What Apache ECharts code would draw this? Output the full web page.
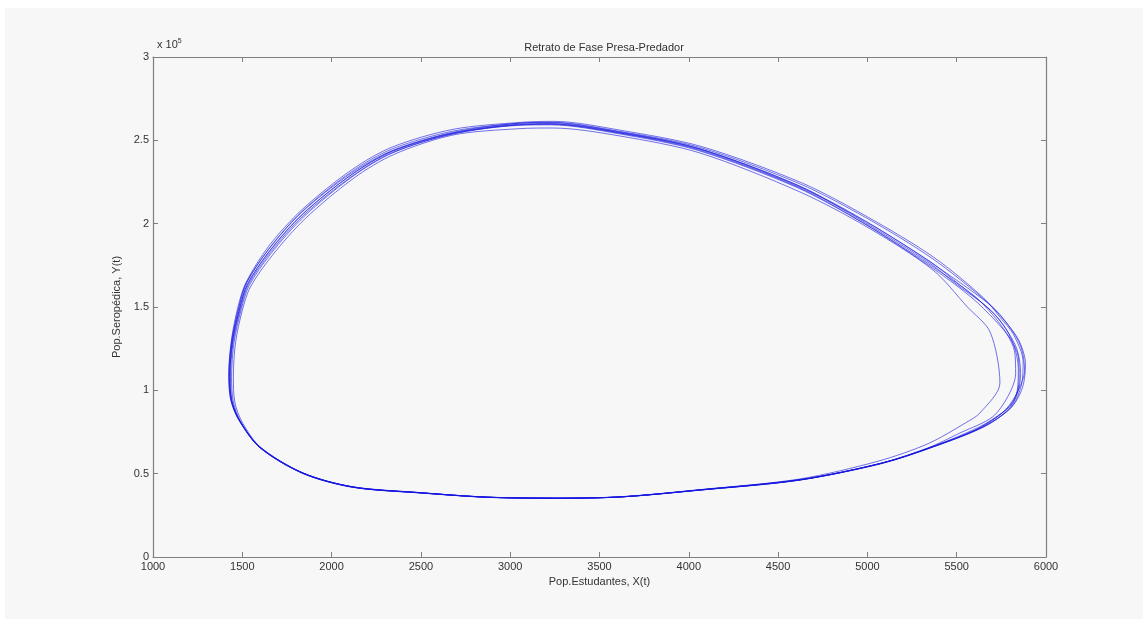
<!DOCTYPE html>
<html>
<head>
<meta charset="utf-8">
<script src="https://cdn.jsdelivr.net/npm/echarts@6/dist/echarts.min.js"></script>
<style>
html,body{margin:0;padding:0;background:#fff;width:1148px;height:619px;overflow:hidden;}
#bg{position:absolute;left:5px;top:8px;width:1138px;height:611px;background:#f7f7f7;}
#chart{position:absolute;left:0;top:0;width:1148px;height:619px;}
</style>
</head>
<body>
<div id="bg"></div>
<div id="chart"></div>
<script>
// Axis ticks
const xTicks = [1000,1500,2000,2500,3000,3500,4000,4500,5000,5500,6000];
const yTicks = [0,50000,100000,150000,200000,250000,300000];

// Trajectory, loop by loop: [X(t) students, Y(t) Seropédica]
const loop1 = [[3210,35100],[3600,35900],[4050,40000],[4610,46000],[5080,56000],[5380,66500],[5660,78500],[5810,90500],[5862,103000],[5872,117000],[5818,133500],[5745,143500],[5650,155500],[5372,179800],[5005,203800],[4630,224600],[4070,246300],[3620,256000],[3245,261400],[3060,260800],[2680,256600],[2340,246000],[2115,232500],[1835,208500],[1648,186500],[1522,165000],[1478,151000],[1440,131000],[1424,110000],[1434,95000],[1478,83000],[1594,66600],[1836,50600],[2116,42200],[2490,38700],[2865,35900]];
const loop2 = [[3250,35400],[3630,36100],[4075,40300],[4635,46400],[5095,56700],[5350,65500],[5620,77000],[5770,88000],[5845,100000],[5880,112000],[5860,126000],[5790,139000],[5690,151000],[5330,178500],[4975,202500],[4600,223500],[4045,245500],[3600,255300],[3225,260700],[3040,260200],[2670,254600],[2338,243800],[2110,230300],[1830,206600],[1646,184300],[1522,164400],[1480,149900],[1441,130000],[1425,109000],[1436,94000],[1481,82000],[1598,65800],[1842,50300],[2122,41900],[2500,38500],[2875,35800]];
const loop3 = [[3235,35200],[3620,36200],[4070,40500],[4620,46800],[5060,57500],[5340,68000],[5550,80500],[5630,86400],[5742,104400],[5687,135000],[5560,150000],[5367,172200],[4998,198000],[4623,219000],[4063,242400],[3615,252600],[3240,257400],[3050,257000],[2680,253200],[2350,241600],[2128,227600],[1852,203000],[1668,181000],[1545,162000],[1500,148000],[1462,128500],[1450,108000],[1458,93000],[1500,80800],[1606,65400],[1843,50200],[2118,42100],[2497,38600],[2868,36000]];
const loop4 = [[3245,35300],[3610,36000],[4058,40100],[4618,46100],[5090,56600],[5375,66300],[5655,78300],[5790,88600],[5840,98000],[5858,110000],[5838,124500],[5775,137000],[5690,148000],[5520,163000],[5355,177000],[4990,201200],[4612,222400],[4055,244800],[3608,254600],[3232,259800],[3048,259400],[2675,254200],[2340,243400],[2117,229800],[1838,205600],[1653,183400],[1529,163600],[1486,149200],[1445,129400],[1430,108400],[1441,93400],[1486,81400],[1598,65600],[1838,50200],[2119,41900],[2493,38500],[2872,35900]];
const loop5 = [[3238,35200],[3622,36100],[4068,40400],[4628,46500],[5075,56200],[5360,66200],[5600,76000],[5760,86800],[5830,96000],[5850,107000],[5845,120000],[5800,131000],[5715,142000],[5580,156000],[5345,174800],[4985,199800],[4608,221600],[4050,244000],[3605,254000],[3230,259300],[3045,259000],[2672,253800],[2340,242400],[2120,228500],[1845,204200],[1660,182000],[1538,162800],[1494,148600],[1454,129000],[1440,108000],[1450,93000],[1492,81000],[1601,65400],[1839,50100],[2117,41800],[2496,38400],[2869,35800]];
const loop6 = [[3242,35300],[3612,36000],[4060,40200],[4622,46300],[5085,56500],[5365,66100],[5640,77800],[5800,89000],[5868,101500],[5885,116000],[5848,130000],[5770,141500],[5665,153500],[5362,179200],[4995,203400],[4620,224000],[4060,245800],[3612,255400],[3236,260800],[3052,260300],[2678,255500],[2338,244800],[2112,231200],[1834,207300],[1649,185000],[1526,164800],[1483,150200],[1443,130300],[1427,109300],[1438,94300],[1483,82200],[1596,66100],[1840,50400],[2120,42000],[2494,38600],[2870,35900]];
const loop7 = [[3240,35300],[3617,36050],[4064,40250],[4625,46350],[5082,56300],[5370,66400],[5630,78200],[5760,87000],[5810,92000],[5840,100500],[5845,113000],[5820,127000],[5760,139500],[5670,150000],[5500,163500],[5350,176200],[4988,200600],[4615,222800],[4058,245000],[3610,254800],[3234,260100],[3050,259700],[2676,254400],[2341,243600],[2118,229900],[1837,205800],[1652,183600],[1529,163800],[1486,149400],[1446,129600],[1430,108800],[1440,93800],[1485,81800],[1599,65800],[1840,50300],[2121,41950],[2495,38550],[2870,35900]];
const loop8 = [[3244,35300],[3619,36100],[4066,40300],[4630,46600],[5070,56000],[5330,65000],[5520,74500],[5700,84000],[5790,97000],[5830,110000],[5825,123000],[5780,134000],[5700,145500],[5600,156500],[5340,176000],[4982,200200],[4610,222000],[4052,244400],[3606,254400],[3230,259600],[3046,259200],[2673,253600],[2343,242800],[2121,229000],[1841,204800],[1656,182600],[1533,163200],[1490,148900],[1449,129200],[1434,108400],[1444,93400],[1488,81400],[1599,65600],[1839,50200],[2119,41900],[2495,38500],[2870,35900],[3244,35300]];

const trajectory = [].concat(loop1, loop2, loop3, loop4, loop5, loop6, loop7, loop8);

const FONT = 'Liberation Sans, Arial, sans-serif';
const axisColor = '#7f7f7f';
const textColor = '#333';

const chart = echarts.init(document.getElementById('chart'), null, {renderer:'canvas'});
const baseX = {
  type:'value', min:xTicks[0], max:xTicks[xTicks.length-1], interval:500,
  axisLine:{show:true, onZero:false, lineStyle:{color:axisColor, width:1.2}},
  axisTick:{show:true, inside:true, length:5, lineStyle:{color:axisColor, width:1}},
  splitLine:{show:false}
};
const baseY = {
  type:'value', min:yTicks[0], max:yTicks[yTicks.length-1], interval:50000,
  axisLine:{show:true, onZero:false, lineStyle:{color:axisColor, width:1.2}},
  axisTick:{show:true, inside:true, length:5, lineStyle:{color:axisColor, width:1}},
  splitLine:{show:false}
};
chart.setOption({
  animation:false,
  backgroundColor:'transparent',
  title:{
    text:'Retrato de Fase Presa-Predador',
    left:599, top:37, textAlign:'center',
    textStyle:{fontFamily:FONT, fontSize:11, fontWeight:'normal', color:textColor}
  },
  grid:{left:153, top:57, width:893, height:500, containLabel:false},
  xAxis:[
    Object.assign({}, baseX, {
      position:'bottom',
      name:'Pop.Estudantes, X(t)', nameLocation:'middle', nameGap:19,
      nameTextStyle:{fontFamily:FONT, fontSize:11, color:textColor},
      axisLabel:{show:true, margin:4, fontFamily:FONT, fontSize:11, color:textColor,
        formatter:function(v){return String(v);}}
    }),
    Object.assign({}, baseX, {position:'top', axisLabel:{show:false}})
  ],
  yAxis:[
    Object.assign({}, baseY, {
      position:'left',
      name:'Pop.Seropédica, Y(t)', nameLocation:'middle', nameGap:19, nameRotate:90,
      nameTextStyle:{fontFamily:FONT, fontSize:11, color:textColor},
      axisLabel:{show:true, margin:4, fontFamily:FONT, fontSize:11, color:textColor,
        formatter:function(v){return String(v/100000);}}
    }),
    Object.assign({}, baseY, {position:'right', axisLabel:{show:false}})
  ],
  graphic:[{
    type:'text', left:157, top:38,
    style:{
      text:'x 10{s|5}', fontFamily:FONT, fontSize:11, fill:textColor,
      rich:{s:{fontFamily:FONT, fontSize:7, verticalAlign:'top', padding:[0,0,6,0]}}
    }
  }],
  series:[{
    type:'line', data:trajectory, xAxisIndex:0, yAxisIndex:0,
    showSymbol:false, smooth:0.3, silent:true,
    lineStyle:{color:'#1515e0', width:1, opacity:0.6}
  }]
});
</script>
</body>
</html>
